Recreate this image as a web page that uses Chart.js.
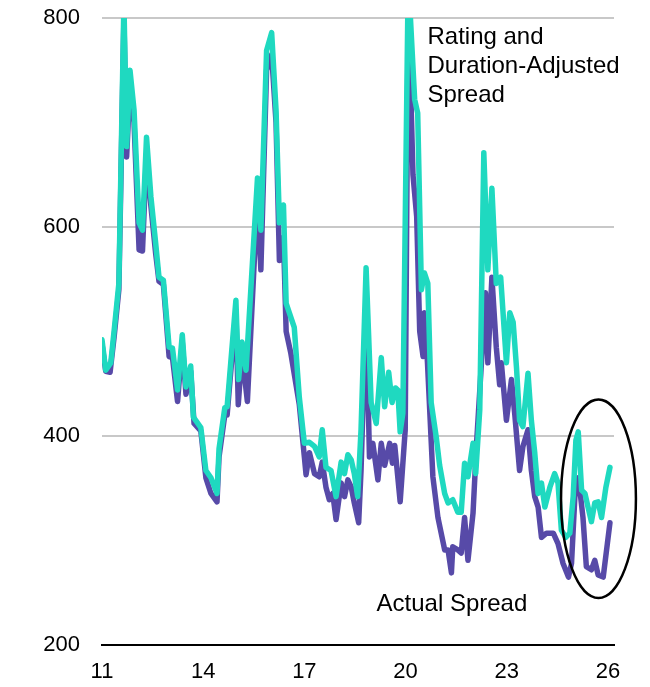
<!DOCTYPE html>
<html>
<head>
<meta charset="utf-8">
<script src="https://cdn.jsdelivr.net/npm/chart.js@4/dist/chart.umd.min.js"></script>
<style>
  html, body { margin: 0; padding: 0; background: #fff; }
  #wrap { width: 650px; height: 687px; position: relative; }
</style>
</head>
<body>
<div id="wrap"><canvas id="spreadChart"></canvas></div>
<script>
// Rating and duration-adjusted spread (bp)
const adjYears = [2011.00, 2011.11, 2011.26, 2011.36, 2011.50, 2011.65, 2011.73, 2011.83, 2011.95, 2012.10,
  2012.20, 2012.32, 2012.45, 2012.59, 2012.69, 2012.82, 2012.99, 2013.09, 2013.24, 2013.38,
  2013.49, 2013.63, 2013.71, 2013.93, 2014.08, 2014.23, 2014.41, 2014.47, 2014.64, 2014.71,
  2014.97, 2015.05, 2015.15, 2015.27, 2015.61, 2015.71, 2015.88, 2016.03, 2016.16, 2016.26,
  2016.38, 2016.46, 2016.70, 2016.85, 2017.00, 2017.15, 2017.30, 2017.44, 2017.53, 2017.64,
  2017.79, 2017.94, 2018.09, 2018.19, 2018.29, 2018.39, 2018.48, 2018.58, 2018.68, 2018.83,
  2018.98, 2019.13, 2019.28, 2019.38, 2019.50, 2019.60, 2019.70, 2019.77, 2019.84, 2019.92,
  2020.08, 2020.27, 2020.36, 2020.47, 2020.56, 2020.66, 2020.76, 2020.91, 2021.01, 2021.16,
  2021.26, 2021.40, 2021.55, 2021.65, 2021.75, 2021.85, 2022.00, 2022.08, 2022.20, 2022.32,
  2022.44, 2022.56, 2022.69, 2022.82, 2022.99, 2023.09, 2023.19, 2023.29, 2023.38, 2023.48,
  2023.63, 2023.73, 2023.83, 2023.93, 2024.03, 2024.13, 2024.28, 2024.42, 2024.52, 2024.62,
  2024.75, 2024.87, 2024.97, 2025.05, 2025.12, 2025.22, 2025.32, 2025.41, 2025.51, 2025.61,
  2025.71, 2025.81, 2025.94, 2026.06];
const adjSpread = [492, 463, 470, 501, 546, 815, 677, 750, 712, 604,
  597, 686, 629, 585, 552, 549, 485, 484, 444, 497,
  447, 467, 418, 408, 367, 360, 345, 388, 427, 428,
  530, 454, 490, 463, 647, 597, 769, 786, 712, 604,
  621, 527, 504, 437, 393, 394, 390, 380, 406, 370,
  367, 342, 375, 364, 382, 377, 364, 342, 406, 561,
  432, 412, 475, 428, 461, 432, 446, 444, 404, 422,
  840, 722, 709, 540, 556, 546, 432, 399, 372, 345,
  336, 339, 327, 327, 374, 361, 393, 364, 425, 671,
  559, 637, 546, 552, 470, 518, 509, 465, 415, 409,
  460, 415, 384, 345, 355, 332, 351, 364, 355, 310,
  303, 307, 342, 396, 404, 348, 345, 332, 318, 336,
  337, 322, 351, 370];

// Actual spread (bp)
const actYears = [2011.00, 2011.11, 2011.24, 2011.36, 2011.50, 2011.65, 2011.73, 2011.83, 2011.95, 2012.10,
  2012.20, 2012.32, 2012.45, 2012.59, 2012.69, 2012.82, 2012.99, 2013.09, 2013.24, 2013.38,
  2013.49, 2013.63, 2013.73, 2013.93, 2014.08, 2014.23, 2014.41, 2014.47, 2014.64, 2014.71,
  2014.97, 2015.04, 2015.15, 2015.31, 2015.61, 2015.71, 2015.88, 2016.03, 2016.16, 2016.26,
  2016.38, 2016.46, 2016.60, 2016.85, 2017.00, 2017.05, 2017.15, 2017.30, 2017.44, 2017.53,
  2017.64, 2017.74, 2017.84, 2017.94, 2018.09, 2018.19, 2018.29, 2018.39, 2018.48, 2018.61,
  2018.68, 2018.83, 2018.93, 2019.03, 2019.18, 2019.28, 2019.38, 2019.53, 2019.61, 2019.68,
  2019.84, 2019.99, 2020.08, 2020.22, 2020.33, 2020.42, 2020.52, 2020.56, 2020.65, 2020.81,
  2020.96, 2021.16, 2021.26, 2021.36, 2021.40, 2021.55, 2021.65, 2021.75, 2021.85, 2022.00,
  2022.10, 2022.25, 2022.37, 2022.44, 2022.56, 2022.69, 2022.79, 2022.84, 2022.99, 2023.14,
  2023.24, 2023.38, 2023.48, 2023.63, 2023.73, 2023.83, 2023.93, 2024.03, 2024.18, 2024.38,
  2024.52, 2024.67, 2024.83, 2024.92, 2025.02, 2025.12, 2025.17, 2025.26, 2025.36, 2025.51,
  2025.61, 2025.71, 2025.86, 2026.06];
const actSpread = [488, 462, 461, 495, 540, 800, 667, 735, 700, 578,
  577, 670, 620, 575, 548, 545, 476, 475, 433, 490,
  440, 462, 412, 405, 360, 345, 337, 380, 420, 420,
  520, 430, 480, 433, 630, 559, 750, 765, 700, 568,
  590, 500, 479, 430, 380, 363, 384, 364, 361, 375,
  351, 339, 345, 320, 355, 342, 358, 351, 336, 317,
  367, 525, 380, 393, 358, 393, 372, 393, 374, 391,
  337, 406, 820, 650, 610, 500, 476, 518, 470, 361,
  322, 291, 291, 269, 294, 291, 288, 322, 281, 326,
  390, 470, 537, 470, 552, 485, 449, 470, 415, 454,
  420, 367, 390, 406, 367, 342, 332, 303, 307, 307,
  297, 278, 265, 278, 342, 360, 348, 322, 275, 272,
  281, 267, 265, 317];

const xTickYears = [2011, 2014, 2017, 2020, 2023, 2026];
const yTicks = [200, 400, 600, 800];

// text and circled region, in data units
const adjLabel = { x: 2020.65, y: 781, lines: ['Rating and', 'Duration-Adjusted', 'Spread'] };
const actLabel = { x: 2019.14, y: 239, text: 'Actual Spread' };
const circled = { x: 2025.72, y: 340, rx: 1.11, ry: 95 };

const FONT = 'Arial, "Liberation Sans", sans-serif';

function toPoints(xs, ys) {
  return xs.map((x, i) => ({ x: x, y: ys[i] }));
}

const annotations = {
  id: 'annotations',
  afterDatasetsDraw(chart) {
    const ctx = chart.ctx;
    const xs = chart.scales.x, ys = chart.scales.y;
    ctx.save();
    ctx.fillStyle = '#000';
    ctx.font = '24px ' + FONT;
    ctx.textAlign = 'left';
    ctx.textBaseline = 'middle';
    const lx = xs.getPixelForValue(adjLabel.x);
    const ly = ys.getPixelForValue(adjLabel.y);
    adjLabel.lines.forEach((t, i) => ctx.fillText(t, lx, ly + i * 29));
    ctx.fillText(actLabel.text, xs.getPixelForValue(actLabel.x), ys.getPixelForValue(actLabel.y));

    // ellipse round the latest readings
    const cx = xs.getPixelForValue(circled.x);
    const cy = ys.getPixelForValue(circled.y);
    const rx = xs.getPixelForValue(circled.x + circled.rx) - cx;
    const ry = cy - ys.getPixelForValue(circled.y + circled.ry);
    ctx.beginPath();
    ctx.ellipse(cx, cy, rx, ry, 0, 0, Math.PI * 2);
    ctx.strokeStyle = '#000';
    ctx.lineWidth = 2.5;
    ctx.stroke();
    ctx.restore();
  }
};

const ctx = document.getElementById('spreadChart').getContext('2d');
new Chart(ctx, {
  type: 'line',
  data: {
    datasets: [{
      label: 'Rating and Duration-Adjusted Spread',
      data: toPoints(adjYears, adjSpread),
      borderColor: '#1fd9c0',
      borderWidth: 5.5,
      pointRadius: 0,
      tension: 0,
      borderJoinStyle: 'round',
      borderCapStyle: 'round'
    }, {
      label: 'Actual Spread',
      data: toPoints(actYears, actSpread),
      borderColor: '#574aa8',
      borderWidth: 5.5,
      pointRadius: 0,
      tension: 0,
      borderJoinStyle: 'round',
      borderCapStyle: 'round'
    }]
  },
  options: {
    responsive: true,
    maintainAspectRatio: false,
    animation: false,
    layout: { padding: { top: 18, right: 36, left: 0, bottom: 0 } },
    plugins: { legend: { display: false }, tooltip: { enabled: false } },
    scales: {
      x: {
        type: 'linear',
        min: 2011,
        max: 2026.18,
        afterBuildTicks: (scale) => { scale.ticks = xTickYears.map(v => ({ value: v })); },
        afterFit: (scale) => { scale.height = 42; },
        grid: { display: false, drawTicks: false },
        border: { display: true, color: '#000', width: 2 },
        ticks: {
          padding: 14,
          color: '#000',
          font: { family: FONT, size: 22 },
          maxRotation: 0,
          callback: (v) => String(v % 100).padStart(2, '0')
        }
      },
      y: {
        min: 200,
        max: 800,
        afterBuildTicks: (scale) => { scale.ticks = yTicks.map(v => ({ value: v })); },
        afterFit: (scale) => {
          scale.width = 102;
          scale.paddingTop = 0;
          scale.paddingBottom = 0;
        },
        border: { display: false },
        grid: {
          drawTicks: false,
          lineWidth: 2,
          color: (c) => c.tick && c.tick.value === 200 ? 'rgba(0,0,0,0)' : '#c8c8c8'
        },
        ticks: {
          padding: 22,
          color: '#000',
          font: { family: FONT, size: 22 }
        }
      }
    }
  },
  plugins: [annotations]
});
</script>
</body>
</html>
